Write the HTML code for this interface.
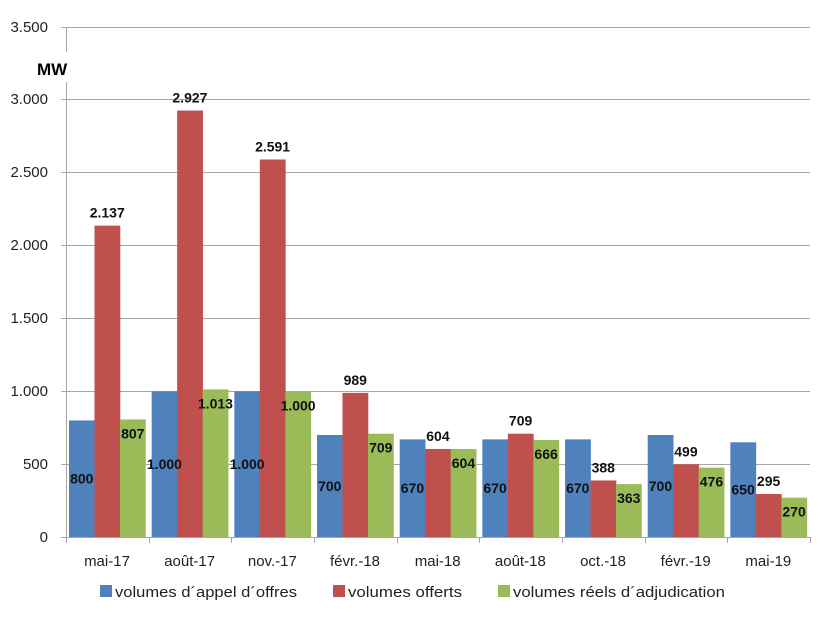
<!DOCTYPE html>
<html><head><meta charset="utf-8"><style>
html,body{margin:0;padding:0;background:#fff;}
svg{display:block;font-family:"Liberation Sans",sans-serif;}
</style></head><body>
<svg width="825" height="618" viewBox="0 0 825 618" xmlns="http://www.w3.org/2000/svg">
<g stroke="#a6a6a6" stroke-width="1">
<line x1="61" y1="27.5" x2="810" y2="27.5"/>
<line x1="61" y1="99.5" x2="810" y2="99.5"/>
<line x1="61" y1="172.5" x2="810" y2="172.5"/>
<line x1="61" y1="245.5" x2="810" y2="245.5"/>
<line x1="61" y1="318.5" x2="810" y2="318.5"/>
<line x1="61" y1="391.5" x2="810" y2="391.5"/>
<line x1="61" y1="464.5" x2="810" y2="464.5"/>
<line x1="61" y1="537.5" x2="810" y2="537.5"/>
<line x1="66.5" y1="27" x2="66.5" y2="543"/>
<line x1="149.5" y1="537" x2="149.5" y2="543"/>
<line x1="231.5" y1="537" x2="231.5" y2="543"/>
<line x1="314.5" y1="537" x2="314.5" y2="543"/>
<line x1="397.5" y1="537" x2="397.5" y2="543"/>
<line x1="479.5" y1="537" x2="479.5" y2="543"/>
<line x1="562.5" y1="537" x2="562.5" y2="543"/>
<line x1="645.5" y1="537" x2="645.5" y2="543"/>
<line x1="727.5" y1="537" x2="727.5" y2="543"/>
<line x1="810.5" y1="537" x2="810.5" y2="543"/>
</g>
<rect x="36" y="52" width="40" height="30" fill="#fff"/>
<text x="37" y="75" font-size="17" font-weight="bold">MW</text>
<g font-size="15" fill="#222" text-anchor="end">
<text x="48" y="32">3.500</text><text x="48" y="104">3.000</text><text x="48" y="177">2.500</text>
<text x="48" y="250">2.000</text><text x="48" y="323">1.500</text><text x="48" y="396">1.000</text>
<text x="48" y="469">500</text><text x="48" y="542">0</text>
</g>
<g id="bars"></g>
<g font-size="15" fill="#222" text-anchor="middle" id="xl"></g>
<g font-size="15" fill="#222">
<rect x="100" y="585" width="12" height="12" fill="#4f81bd"/><text x="115" y="597" textLength="182" lengthAdjust="spacingAndGlyphs">volumes d´appel d´offres</text>
<rect x="333" y="585" width="12" height="12" fill="#c0504d"/><text x="348" y="597" textLength="114" lengthAdjust="spacingAndGlyphs">volumes offerts</text>
<rect x="498" y="585" width="12" height="12" fill="#9bbb59"/><text x="513" y="597" textLength="212" lengthAdjust="spacingAndGlyphs">volumes réels d´adjudication</text>
</g>
<script>
var d=[["mai-17",800,2137,807],["août-17",1000,2927,1013],["nov.-17",1000,2591,1000],["févr.-18",700,989,709],["mai-18",670,604,604],["août-18",670,709,666],["oct.-18",670,388,363],["févr.-19",700,499,476],["mai-19",650,295,270]];
var ns="http://www.w3.org/2000/svg",B=document.getElementById("bars"),X=document.getElementById("xl");
function y(v){return 537-v*0.1457;}
function f(v){var s=String(v);return s.length>3?s.slice(0,s.length-3)+"."+s.slice(-3):s;}
function el(t,a,p,txt){var e=document.createElementNS(ns,t);for(var k in a)e.setAttribute(k,a[k]);if(txt)e.textContent=txt;p.appendChild(e);return e;}
var cols=["#4f81bd","#c0504d","#9bbb59"];
var texts=[];
d.forEach(function(r,i){var g=66+i*82.67;
 for(var j=0;j<3;j++){var x=g+3+j*25.5;el("rect",{x:x,y:y(r[j+1]),width:25.8,height:537-y(r[j+1]),fill:cols[j]},B);}
 var c0=g+3+12.75,c1=g+28.5+12.75,c2=g+54+12.75;
 texts.push([c0,(y(r[1])+537)/2+5,f(r[1])]);
 texts.push([c1,y(r[2])-8,f(r[2])]);
 texts.push([c2,y(r[3])+19,f(r[3])]);
 el("text",{x:g+41,y:566},X,r[0]);
});
texts.forEach(function(t){el("text",{x:t[0],y:t[1],"font-size":"14","font-weight":"bold","text-anchor":"middle",fill:"#111"},B,t[2]);});
</script>
</svg>
</body></html>
